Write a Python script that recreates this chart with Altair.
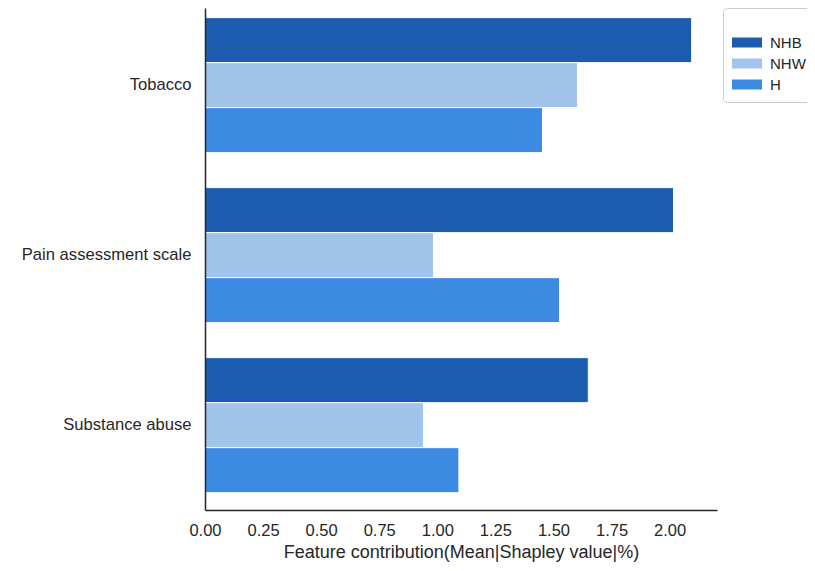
import altair as alt
import pandas as pd

features = ["Tobacco", "Pain assessment scale", "Substance abuse"]
groups = ["NHB", "NHW", "H"]
nhb = [2.095, 2.017, 1.650]
nhw = [1.604, 0.984, 0.941]
h_vals = [1.453, 1.526, 1.093]
colors = ["#1b5cae", "#a1c4ea", "#3d8ae2"]
x_ticks = [0.0, 0.25, 0.5, 0.75, 1.0, 1.25, 1.5, 1.75, 2.0]
x_max = 2.204

rows = []
for i, f in enumerate(features):
    for g, vals in zip(groups, [nhb, nhw, h_vals]):
        rows.append({"feature": f, "group": g, "value": vals[i]})
df = pd.DataFrame(rows)

FONT = "Liberation Sans"
TXT = "#262626"

chart = alt.Chart(df).mark_bar(stroke="white", strokeWidth=1).encode(
    y=alt.Y("feature:N", sort=features,
            scale=alt.Scale(paddingInner=0.2059, paddingOuter=0.0794, align=0.357),
            axis=alt.Axis(title=None, ticks=False, labelPadding=14, labelFontSize=16.6,
                          labelColor=TXT, labelFont=FONT, domainColor=TXT,
                          domainWidth=1.5, grid=False, zindex=1)),
    yOffset=alt.YOffset("group:N", sort=groups, scale=alt.Scale(paddingInner=0, paddingOuter=0)),
    x=alt.X("value:Q", scale=alt.Scale(domain=[0, x_max], nice=False, zero=True),
            axis=alt.Axis(title="Feature contribution(Mean|Shapley value|%)", values=x_ticks,
                          format=".2f", ticks=False, labelPadding=12, labelFontSize=16.5,
                          labelColor=TXT, labelFont=FONT, titleFont=FONT, titleFontSize=18,
                          titleFontWeight="normal", titleColor=TXT, titlePadding=5,
                          domainColor=TXT, domainWidth=1.5, grid=False, labelFlush=False,
                          zindex=1)),
    color=alt.Color("group:N", sort=groups,
                    scale=alt.Scale(domain=groups, range=colors),
                    legend=alt.Legend(title=" ", orient="none", legendX=518, legendY=0,
                                      symbolType="M-1,-0.667H3V0.667H-1Z", symbolSize=225,
                                      symbolStrokeWidth=0, labelFontSize=15, labelFont=FONT,
                                      labelColor=TXT, titleFontSize=10, titlePadding=8,
                                      padding=9, strokeColor="#cccccc", cornerRadius=4,
                                      fillColor="white", rowPadding=5, labelOffset=23)),
).properties(
    width=512, height=502,
    autosize=alt.AutoSizeParams(type="none"),
    padding={"left": 197, "top": 0, "right": 90, "bottom": 55},
).configure_view(stroke=None)

chart.save("out.html", embed_options={"renderer": "svg", "actions": False})
